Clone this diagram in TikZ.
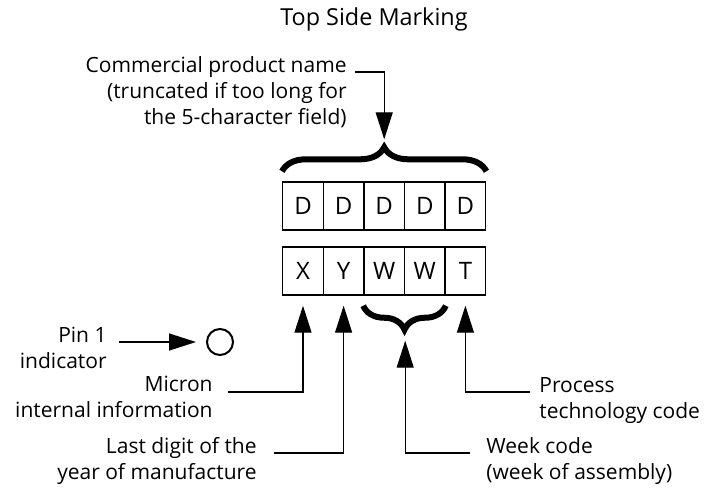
\documentclass[tikz,border=0pt]{standalone}
\usepackage{fontspec}
\setmainfont{Open Sans}
\usetikzlibrary{arrows.meta, decorations.pathreplacing, calc}
\tikzset{
  cell/.style = {rectangle, draw, line width=0.7pt, minimum width=20.3pt, minimum height=24pt, inner sep=0pt, font=\fontsize{12}{14}\selectfont},
  lbl_r/.style = {align=right, inner sep=0pt, anchor=north east, font=\fontsize{10.5}{13}\selectfont},
  lbl_l/.style = {align=left, inner sep=0pt, anchor=north west, font=\fontsize{10.5}{13}\selectfont},
  pointer/.style = {line width=0.65pt, -{Triangle[length=13.5pt, width=8.5pt]}},
  bracemark/.style = {decorate, decoration={brace, amplitude=12pt}, line width=3pt}
}
\begin{document}
\begin{tikzpicture}[x=0.5pt, y=-0.5pt]
    \useasboundingbox (0,0) rectangle (704,487);
    \node[font=\fontsize{11.7}{14}\selectfont] (title) at (374,19) {Top Side Marking};
    % marking cells
    \foreach \ch [count=\i] in {D,D,D,D,D}
        \node[cell] (d\i) at (262.4+40.6*\i, 206) {\ch};
    \foreach \ch [count=\i] in {X,Y,W,W,T}
        \node[cell] (c\i) at (262.4+40.6*\i, 271) {\ch};
    % braces
    \draw[bracemark] ([yshift=5pt]d1.north west) -- ([yshift=5pt]d5.north east);
    \draw[bracemark] ([yshift=-5pt]c4.south east) -- ([yshift=-5pt]c3.south west);
    \coordinate (ptip) at ([yshift=21pt]d3.north);
    \coordinate (wtip) at ([yshift=-22.5pt]c3.south east);
    % labels
    \node[lbl_r] (product) at (347,56) {Commercial product name\\(truncated if too long for\\the 5-character field)};
    \node[lbl_r] (pin) at (107,327) {Pin 1\\indicator};
    \node[lbl_r] (micron) at (213,376) {Micron\\internal information};
    \node[lbl_r] (year) at (257,437) {Last digit of the\\year of manufacture};
    \node[lbl_l] (week) at (486,437) {Week code\\(week of assembly)};
    \node[lbl_l] (process) at (539,377) {Process\\technology code};
    \node[circle, draw, line width=1pt, minimum size=13pt, inner sep=0pt] (pin1) at (220,342) {};
    % pointers
    \coordinate (pinstart) at ([xshift=6pt,yshift=-7.5pt]pin.north east);
    \draw[pointer, shorten >=5pt] (pinstart) -- (pinstart -| pin1.west);
    \draw[pointer] ([xshift=4pt,yshift=-8pt]product.north east) -| (ptip);
    \draw[pointer] ([xshift=7.5pt,yshift=-8pt]micron.north east) -| ([yshift=-5pt]c1.south);
    \draw[pointer] ([xshift=8.5pt,yshift=-8pt]year.north east) -| ([yshift=-5pt]c2.south);
    \draw[pointer] ([xshift=-8pt,yshift=-8pt]week.north west) -| (wtip);
    \draw[pointer] ([xshift=-4.5pt,yshift=-7.5pt]process.north west) -| ([yshift=-5pt]c5.south);
\end{tikzpicture}
\end{document}
